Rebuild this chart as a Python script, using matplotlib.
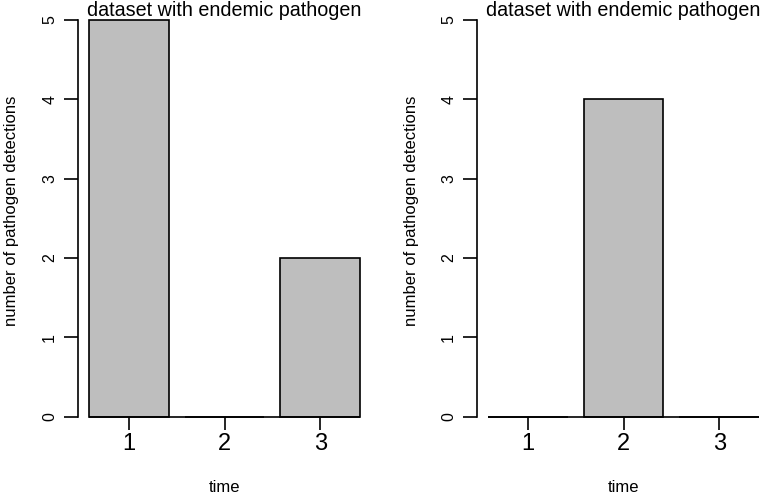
import numpy as np
import matplotlib
matplotlib.use('Agg')
import matplotlib.pyplot as plt

plt.rcParams['font.family'] = ['Liberation Sans', 'DejaVu Sans']

# detections per time step, one list per panel
time_labels = ['1', '2', '3']
detections_left = [5, 0, 2]
detections_right = [0, 4, 0]
panel_title = 'dataset with endemic pathogen'
y_label = 'number of pathogen detections'
x_label = 'time'

W, H = 762, 496
fig = plt.figure(figsize=(W / 100, H / 100), dpi=100)

# R barplot layout: width 1, space 0.2
pos = np.arange(len(time_labels)) * 1.2 + 0.7
lo, hi = pos[0] - 0.5, pos[-1] + 0.5
ext = (hi - lo) * 0.04
LW = 1.2


def draw_panel(left_px, values):
    ax = fig.add_axes([left_px / W, (H - 416.5) / H, 293 / W, 396.5 / H])
    ax.bar(pos, values, width=1.0, color='#bebebe', edgecolor='black',
           linewidth=LW, clip_on=False, zorder=2)
    ax.hlines(0, lo, hi, colors='black', linewidth=LW, clip_on=False, zorder=3)
    ax.set_xlim(lo - ext, hi + ext)
    ax.set_ylim(0, 5)
    for s in ['top', 'right', 'bottom']:
        ax.spines[s].set_visible(False)
    ax.spines['left'].set_linewidth(LW)
    ax.set_xticks(pos)
    ax.set_xticklabels(time_labels, fontsize=17)
    ax.tick_params(axis='x', length=9, width=LW, pad=3)
    ax.set_yticks(range(6))
    ax.set_yticklabels([str(v) for v in range(6)], fontsize=11.5, rotation=90,
                       va='center')
    ax.tick_params(axis='y', length=10, width=LW, pad=5)
    ax.set_title(panel_title, fontsize=14.2, pad=2)
    cx = (left_px + 146.5) / W
    fig.text(cx, 1 - 487 / H, x_label, fontsize=12, ha='center', va='center')
    fig.text((left_px - 66) / W, 1 - 211 / H, y_label, fontsize=12,
             rotation=90, ha='center', va='center')
    return ax


draw_panel(78, detections_left)
draw_panel(477, detections_right)

fig.savefig('out.png', dpi=100)
